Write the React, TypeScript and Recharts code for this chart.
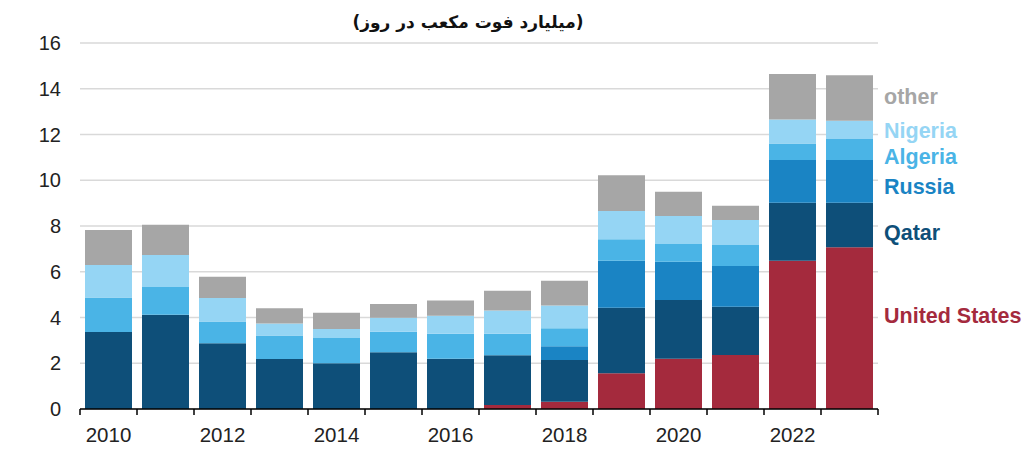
import React from 'react';
import { BarChart, Bar, XAxis, YAxis, CartesianGrid, LabelList } from 'recharts';

const years = ['2010', '2011', '2012', '2013', '2014', '2015', '2016', '2017', '2018', '2019', '2020', '2021', '2022', '2023'];
const unitedStates = [0, 0, 0, 0, 0, 0, 0, 0.17, 0.32, 1.56, 2.2, 2.36, 6.48, 7.07];
const qatar = [3.37, 4.12, 2.87, 2.19, 2.0, 2.48, 2.2, 2.18, 1.82, 2.87, 2.57, 2.11, 2.54, 1.95];
const russia = [0, 0, 0, 0, 0, 0, 0, 0, 0.6, 2.05, 1.67, 1.78, 1.87, 1.87];
const algeria = [1.5, 1.21, 0.95, 1.02, 1.1, 0.9, 1.09, 0.94, 0.79, 0.94, 0.77, 0.92, 0.72, 0.91];
const nigeria = [1.43, 1.4, 1.03, 0.53, 0.4, 0.61, 0.79, 1.02, 0.99, 1.24, 1.23, 1.09, 1.05, 0.8];
const other = [1.53, 1.33, 0.93, 0.66, 0.71, 0.6, 0.66, 0.86, 1.09, 1.56, 1.06, 0.63, 1.98, 1.99];
const yTicks = [0, 2, 4, 6, 8, 10, 12, 14, 16];
const titleText = '(میلیارد فوت مکعب در روز)';

const data = years.map((y, i) => ({
  year: y,
  us: unitedStates[i],
  qatar: qatar[i],
  russia: russia[i],
  algeria: algeria[i],
  nigeria: nigeria[i],
  other: other[i],
}));

const series = [
  { key: 'us', name: 'United States', color: '#a42a3d', dy: -11 },
  { key: 'qatar', name: 'Qatar', color: '#0e4f79', dy: 9 },
  { key: 'russia', name: 'Russia', color: '#1a84c4', dy: 7 },
  { key: 'algeria', name: 'Algeria', color: '#4ab4e6', dy: 8.5 },
  { key: 'nigeria', name: 'Nigeria', color: '#95d5f4', dy: 2.5 },
  { key: 'other', name: 'other', color: '#a6a6a6', dy: 0 },
];

const W = 1034;
const H = 451;
const PLOT_LEFT = 80;
const PLOT_RIGHT = 878;
const SLOT = (PLOT_RIGHT - PLOT_LEFT) / years.length;
const FONT = '"Liberation Sans", Arial, sans-serif';

const XTick = (props: any) => {
  const { x, y, payload, index } = props;
  const yr = parseInt(payload.value, 10);
  const last = index === years.length - 1;
  return (
    <g>
      <line x1={x - SLOT / 2} x2={x - SLOT / 2} y1={y} y2={y + 6} stroke="#000" strokeWidth={1.5} />
      {last && <line x1={x + SLOT / 2} x2={x + SLOT / 2} y1={y} y2={y + 6} stroke="#000" strokeWidth={1.5} />}
      {yr % 2 === 0 && (
        <text x={x} y={y + 28} textAnchor="middle" dominantBaseline="middle" fontFamily={FONT} fontSize={20.5} fill="#222">
          {payload.value}
        </text>
      )}
    </g>
  );
};

const makeLabel = (s: { name: string; color: string; dy: number }) => (props: any) => {
  const { x, y, width, height } = props;
  const right = Number(x) + Number(width);
  if (!(right > PLOT_RIGHT - SLOT / 2)) return null;
  return (
    <text
      x={right + 11}
      y={Number(y) + Number(height) / 2 + s.dy}
      dominantBaseline="middle"
      fontFamily={FONT}
      fontWeight="bold"
      fontSize={21.5}
      fill={s.color}
    >
      {s.name}
    </text>
  );
};

export default function App() {
  return (
    <div style={{ position: 'absolute', left: 0, top: 0, width: W, height: H, background: '#fff' }}>
      <div
        dir="rtl"
        style={{
          position: 'absolute',
          left: 0,
          width: 936,
          top: 10,
          textAlign: 'center',
          fontFamily: '"DejaVu Sans", sans-serif',
          fontWeight: 'bold',
          fontSize: 17,
          color: '#111',
          lineHeight: '24px',
        }}
      >
        {titleText}
      </div>
      <BarChart
        width={W}
        height={H}
        data={data}
        margin={{ top: 43, right: W - PLOT_RIGHT, bottom: 12, left: 0 }}
        barCategoryGap={5}
      >
        <CartesianGrid vertical={false} stroke="#d9d9d9" strokeWidth={1.3} />
        <YAxis
          domain={[0, 16]}
          ticks={yTicks}
          width={PLOT_LEFT}
          axisLine={false}
          tickLine={false}
          tickSize={0}
          tickMargin={19}
          tick={{ fontFamily: FONT, fontSize: 20, fill: '#222' }}
        />
        <XAxis
          dataKey="year"
          height={30}
          interval={0}
          axisLine={{ stroke: '#000', strokeWidth: 1.5 }}
          tickLine={false}
          tickSize={0}
          tickMargin={0}
          tick={<XTick />}
        />
        {series.map((s) => (
          <Bar key={s.key} dataKey={s.key} stackId="a" fill={s.color} isAnimationActive={false}>
            <LabelList dataKey={s.key} content={makeLabel(s)} />
          </Bar>
        ))}
      </BarChart>
    </div>
  );
}
